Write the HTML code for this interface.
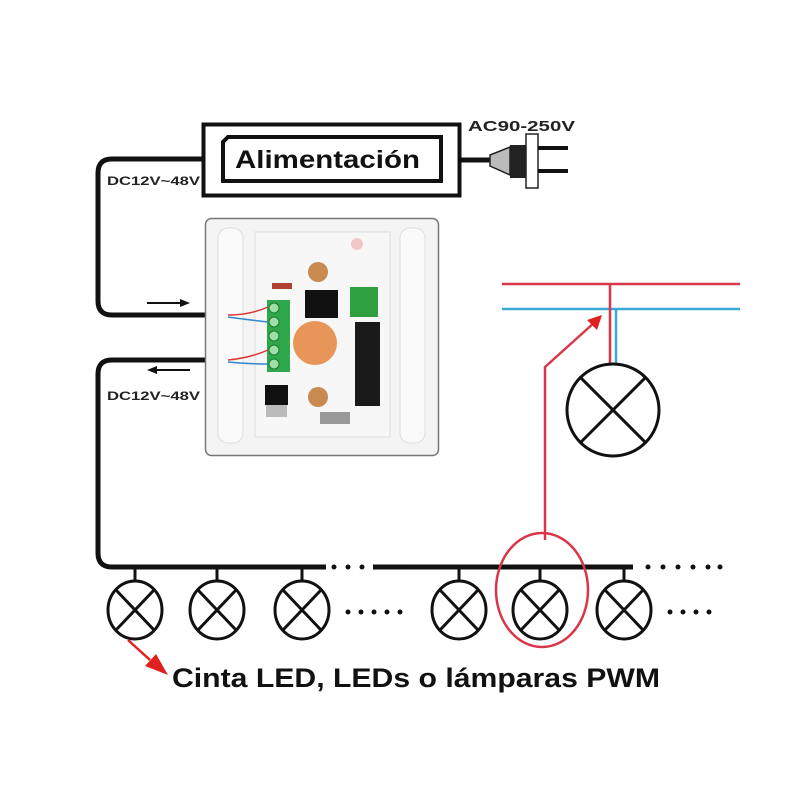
<!DOCTYPE html>
<html><head><meta charset="utf-8"><style>html,body{margin:0;padding:0;background:#fff}svg{display:block}text{font-family:"Liberation Sans",Arial,sans-serif}</style></head>
<body>
<svg width="800" height="800" viewBox="0 0 800 800" xmlns="http://www.w3.org/2000/svg">
<rect width="800" height="800" fill="#fff"/>
<!-- power supply -->
<rect x="203.5" y="124.5" width="256" height="71" fill="#fff" stroke="#111" stroke-width="4"/>
<path d="M228 137 H441 V181 H223 V142 Z" fill="#fff" stroke="#111" stroke-width="4"/>
<text x="235" y="168" font-size="25" font-weight="bold" fill="#111" textLength="185" lengthAdjust="spacingAndGlyphs">Alimentación</text>
<text x="468" y="131" font-size="15" font-weight="bold" fill="#222" textLength="107" lengthAdjust="spacingAndGlyphs">AC90-250V</text>
<!-- plug -->
<line x1="460" y1="160" x2="492" y2="160" stroke="#111" stroke-width="5"/>
<path d="M490 155 L510 147 L510 175 L490 166 Z" fill="#bbb" stroke="#222" stroke-width="1.5"/>
<rect x="510" y="145" width="17" height="33" fill="#222"/>
<rect x="526" y="134" width="12" height="54" fill="#fff" stroke="#222" stroke-width="1.5"/>
<line x1="538" y1="148" x2="568" y2="148" stroke="#111" stroke-width="4"/>
<line x1="538" y1="171" x2="568" y2="171" stroke="#111" stroke-width="4"/>
<!-- cables -->
<path d="M203 159 H112 Q98 159 98 173 V301 Q98 315 112 315 H228" fill="none" stroke="#111" stroke-width="5"/>
<path d="M228 360 H112 Q98 360 98 374 V553 Q98 567 112 567 H326" fill="none" stroke="#111" stroke-width="5"/>
<text x="107" y="185" font-size="12" font-weight="bold" fill="#222" textLength="93" lengthAdjust="spacingAndGlyphs">DC12V~48V</text>
<text x="107" y="400" font-size="12" font-weight="bold" fill="#222" textLength="93" lengthAdjust="spacingAndGlyphs">DC12V~48V</text>
<line x1="147" y1="303" x2="182" y2="303" stroke="#111" stroke-width="2"/>
<path d="M190 303 L180 299 L180 307 Z" fill="#111"/>
<line x1="155" y1="370" x2="190" y2="370" stroke="#111" stroke-width="2"/>
<path d="M147 370 L157 366 L157 374 Z" fill="#111"/>
<!-- panel -->
<rect x="205.5" y="218.5" width="233" height="237" rx="6" fill="#f4f4f4" stroke="#777" stroke-width="1.5"/>
<rect x="218" y="228" width="25" height="215" rx="10" fill="#fafafa" stroke="#ddd"/>
<rect x="400" y="228" width="25" height="215" rx="10" fill="#fafafa" stroke="#ddd"/>
<rect x="255" y="232" width="135" height="205" fill="#f7f7f7" stroke="#ddd"/>
<circle cx="318" cy="272" r="10" fill="#c98a50"/>
<circle cx="318" cy="397" r="10" fill="#c98a50"/>
<circle cx="357" cy="244" r="6" fill="#f0c8c8"/>
<rect x="305" y="290" width="33" height="28" fill="#111"/>
<rect x="355" y="322" width="25" height="84" fill="#1a1a1a"/>
<rect x="350" y="287" width="28" height="30" fill="#2fa040"/>
<rect x="265" y="385" width="23" height="20" fill="#111"/>
<rect x="266" y="405" width="21" height="12" fill="#bbb"/>
<rect x="272" y="283" width="20" height="6" fill="#b04030"/>
<circle cx="315" cy="343" r="22" fill="#e8955a"/>
<rect x="267" y="300" width="23" height="72" fill="#2ea84a"/>
<g fill="#9de0a8" stroke="#1b7a30"><circle cx="274" cy="308" r="5"/><circle cx="274" cy="322" r="5"/><circle cx="274" cy="336" r="5"/><circle cx="274" cy="350" r="5"/><circle cx="274" cy="364" r="5"/></g>
<rect x="320" y="412" width="30" height="12" fill="#999"/>
<path d="M228 315 Q250 315 268 307" fill="none" stroke="#d33" stroke-width="1.5"/>
<path d="M228 317 Q250 320 268 322" fill="none" stroke="#38c" stroke-width="1.5"/>
<path d="M228 360 Q250 358 268 350" fill="none" stroke="#d33" stroke-width="1.5"/>
<path d="M228 362 Q250 364 268 364" fill="none" stroke="#38c" stroke-width="1.5"/>
<!-- mains -->
<line x1="502" y1="284" x2="740" y2="284" stroke="#d9364a" stroke-width="2.5"/>
<line x1="502" y1="309" x2="740" y2="309" stroke="#3aa9d8" stroke-width="2.5"/>
<line x1="610" y1="284" x2="610" y2="364" stroke="#d9364a" stroke-width="2.5"/>
<line x1="616" y1="309" x2="616" y2="364" stroke="#3aa9d8" stroke-width="2.5"/>
<g stroke="#111" stroke-width="3" fill="#fff"><circle cx="613" cy="410" r="46"/>
<line x1="580" y1="377" x2="646" y2="443"/><line x1="646" y1="377" x2="580" y2="443"/></g>
<path d="M545 540 V367 L595 322" fill="none" stroke="#d9364a" stroke-width="2.5"/>
<path d="M602 315 L587 320 L597 330 Z" fill="#e02020"/>
<!-- bus -->
<line x1="373" y1="567" x2="633" y2="567" stroke="#111" stroke-width="5"/>
<g fill="#111"><circle cx="334" cy="567" r="2.5"/><circle cx="348" cy="567" r="2.5"/><circle cx="362" cy="567" r="2.5"/>
<circle cx="376" cy="567" r="2.5"/><circle cx="390" cy="567" r="2.5"/><circle cx="404" cy="567" r="2.5"/><circle cx="418" cy="567" r="2.5"/>
<circle cx="648" cy="567" r="2.5"/><circle cx="663" cy="567" r="2.5"/><circle cx="678" cy="567" r="2.5"/><circle cx="693" cy="567" r="2.5"/><circle cx="708" cy="567" r="2.5"/><circle cx="720" cy="567" r="2.5"/>
<circle cx="348" cy="612" r="2.5"/><circle cx="361" cy="612" r="2.5"/><circle cx="374" cy="612" r="2.5"/><circle cx="387" cy="612" r="2.5"/><circle cx="400" cy="612" r="2.5"/>
<circle cx="670" cy="612" r="2.5"/><circle cx="683" cy="612" r="2.5"/><circle cx="696" cy="612" r="2.5"/><circle cx="709" cy="612" r="2.5"/></g>
<g stroke="#111" stroke-width="3" fill="#fff">
<g transform="translate(135,610)"><line x1="0" y1="-43" x2="0" y2="-28"/><ellipse rx="27" ry="29"/><line x1="-19" y1="-20" x2="19" y2="20"/><line x1="19" y1="-20" x2="-19" y2="20"/></g>
<g transform="translate(217,610)"><line x1="0" y1="-43" x2="0" y2="-28"/><ellipse rx="27" ry="29"/><line x1="-19" y1="-20" x2="19" y2="20"/><line x1="19" y1="-20" x2="-19" y2="20"/></g>
<g transform="translate(302,610)"><line x1="0" y1="-43" x2="0" y2="-28"/><ellipse rx="27" ry="29"/><line x1="-19" y1="-20" x2="19" y2="20"/><line x1="19" y1="-20" x2="-19" y2="20"/></g>
<g transform="translate(459,610)"><line x1="0" y1="-43" x2="0" y2="-28"/><ellipse rx="27" ry="29"/><line x1="-19" y1="-20" x2="19" y2="20"/><line x1="19" y1="-20" x2="-19" y2="20"/></g>
<g transform="translate(540,610)"><line x1="0" y1="-43" x2="0" y2="-28"/><ellipse rx="27" ry="29"/><line x1="-19" y1="-20" x2="19" y2="20"/><line x1="19" y1="-20" x2="-19" y2="20"/></g>
<g transform="translate(624,610)"><line x1="0" y1="-43" x2="0" y2="-28"/><ellipse rx="27" ry="29"/><line x1="-19" y1="-20" x2="19" y2="20"/><line x1="19" y1="-20" x2="-19" y2="20"/></g>
</g>
<ellipse cx="542" cy="590" rx="46" ry="57" fill="none" stroke="#d9364a" stroke-width="2.5"/>
<line x1="128" y1="640" x2="150" y2="660" stroke="#e02020" stroke-width="2.5"/>
<path d="M168 675 L145 666 L156 654 Z" fill="#e02020"/>
<text x="172" y="687" font-size="27" font-weight="bold" fill="#111" textLength="488" lengthAdjust="spacingAndGlyphs">Cinta LED, LEDs o lámparas PWM</text>
</svg>
</body></html>
